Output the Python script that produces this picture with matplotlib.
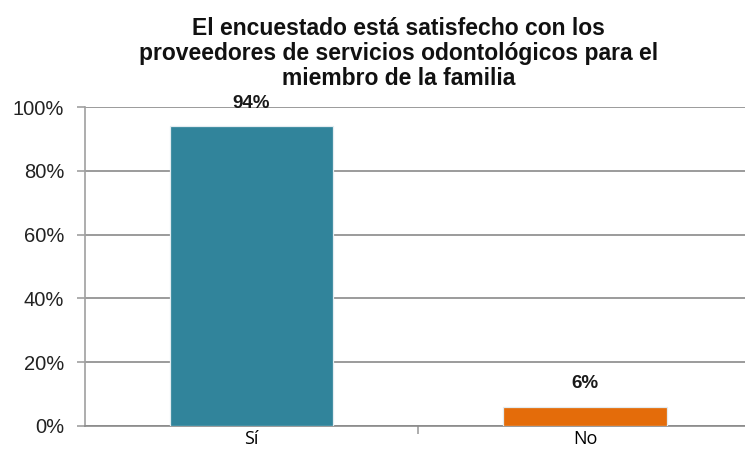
import matplotlib.pyplot as plt
from matplotlib.ticker import PercentFormatter

categories = ["Sí", "No"]
values = [94, 6]
labels = ["94%", "6%"]
colors = ["#31849B", "#E46C0A"]

fig = plt.figure(figsize=(7.45, 4.54), dpi=100)
ax = fig.add_axes([0.114, 0.062, 0.895, 0.702])

x = [0, 1]
ax.bar(x, values, width=0.49, color=colors, edgecolor="#e3ecf0", linewidth=0.9, zorder=3)

# value labels above the bars
for xi, v, lab in zip(x, values, labels):
    ax.text(xi, v + 4.6, lab, ha="center", va="bottom", fontsize=13.5,
            fontweight="bold", family="Liberation Sans", color="#1a1a1a", zorder=4)

ax.set_xlim(-0.5, 1.5)
ax.set_ylim(0, 100)
ax.set_yticks(range(0, 101, 20))
ax.yaxis.set_major_formatter(PercentFormatter(decimals=0))
ax.grid(axis="y", color="#8a8a8a", linewidth=1.2, zorder=0)

ax.set_xticks([0.5], minor=False)
ax.set_xticklabels([""])
ax.set_xticks(x, minor=True)
ax.set_xticklabels(categories, minor=True, fontsize=13, family="Open Sans")
ax.tick_params(axis="x", which="minor", length=0, pad=3)
ax.tick_params(axis="x", which="major", length=6, color="#a0a0a0", width=1.2, direction="out")
ax.tick_params(axis="y", length=6, color="#a0a0a0", width=1.2, labelsize=14.5, pad=9,
               labelcolor="#222222")
for t in ax.get_yticklabels():
    t.set_family("Liberation Sans")

for s in ["top", "right"]:
    ax.spines[s].set_visible(False)
ax.spines["left"].set_color("#a0a0a0")
ax.spines["left"].set_linewidth(1.2)
ax.spines["bottom"].set_color("#8a8a8a")
ax.spines["bottom"].set_linewidth(1.2)

fig.text(0.535, 0.882, "El encuestado está satisfecho con los\nproveedores de servicios odontológicos para el\nmiembro de la familia",
         ha="center", va="center", fontsize=16.5, fontweight="bold",
         family="Liberation Sans", linespacing=1.12, color="#111111")

plt.savefig("out.png")
